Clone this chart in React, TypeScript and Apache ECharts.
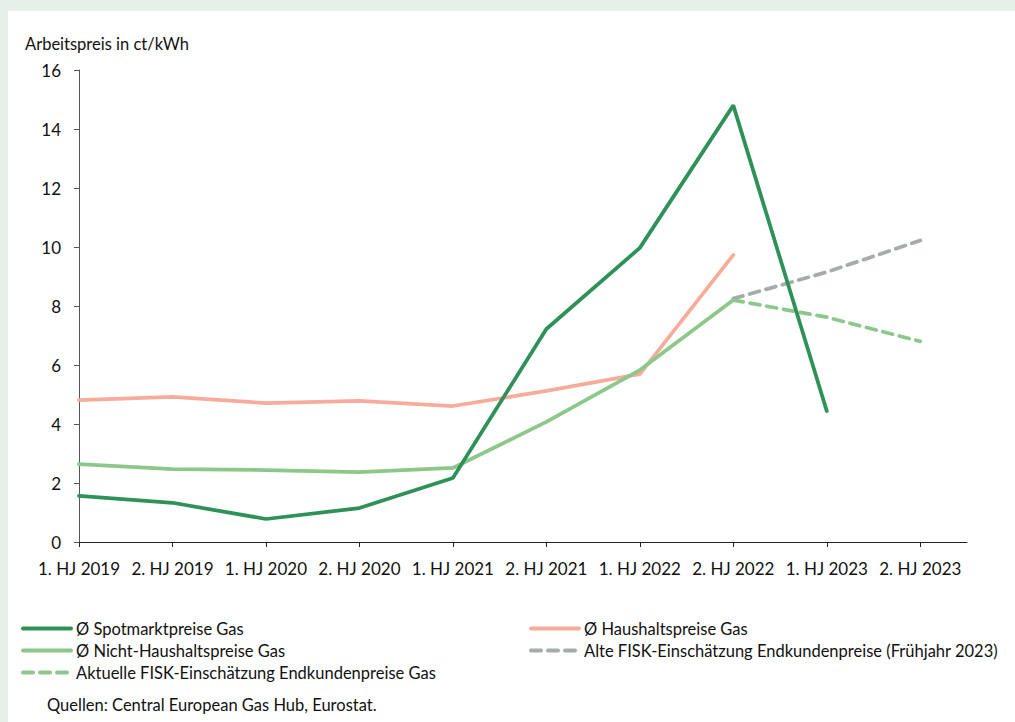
import React, { useEffect, useRef } from "react";
import * as echarts from "echarts";

const categories = [
  "1. HJ 2019", "2. HJ 2019", "1. HJ 2020", "2. HJ 2020", "1. HJ 2021",
  "2. HJ 2021", "1. HJ 2022", "2. HJ 2022", "1. HJ 2023", "2. HJ 2023",
];
const spotmarkt = [1.56, 1.33, 0.78, 1.15, 2.17, 7.22, 9.97, 14.8, 4.44, null];
const haushalt = [4.81, 4.92, 4.71, 4.78, 4.61, 5.12, 5.69, 9.73, null, null];
const nichtHaushalt = [2.64, 2.47, 2.44, 2.37, 2.51, 4.07, 5.83, 8.2, null, null];
const alteFisk = [null, null, null, null, null, null, null, 8.25, 9.15, 10.22];
const aktuelleFisk = [null, null, null, null, null, null, null, 8.2, 7.62, 6.8];

const FONT = "Lato";
const toPairs = (arr: (number | null)[]) =>
  arr.map((v, i) => [i, v]).filter((p) => p[1] !== null);

export default function App() {
  const ref = useRef<HTMLDivElement>(null);
  useEffect(() => {
    if (!ref.current) return;
    const chart = echarts.init(ref.current, undefined, { renderer: "svg" });
    const idx = categories.map((_, i) => i);
    const legendCommon = {
      orient: "vertical",
      top: 604,
      itemWidth: 48,
      itemHeight: 14,
      itemGap: 5,
      itemStyle: { opacity: 0 },
      lineStyle: { width: 4 },
      textStyle: { fontSize: 16.5, color: "#111", fontFamily: FONT },
    };
    chart.setOption({
      animation: false,
      textStyle: { fontFamily: FONT },
      grid: { left: 71, top: 59, right: 48, bottom: 180, containLabel: false },
      xAxis: {
        type: "value",
        min: 0,
        max: 9.5,
        interval: 1,
        splitLine: { show: false },
        axisLine: { show: true, lineStyle: { color: "#222", width: 1 } },
        axisTick: { show: true, length: 5, customValues: idx, lineStyle: { color: "#222" } },
        axisLabel: {
          customValues: idx,
          formatter: (v: number) => categories[Math.round(v)] ?? "",
          color: "#111",
          fontSize: 17,
          fontFamily: FONT,
          margin: 18,
        },
      },
      yAxis: {
        type: "value",
        min: 0,
        max: 16,
        interval: 2,
        splitLine: { show: false },
        axisLine: { show: true, lineStyle: { color: "#555", width: 1 } },
        axisTick: { show: true, length: 5, lineStyle: { color: "#555" } },
        axisLabel: { color: "#111", fontSize: 17, fontFamily: FONT, margin: 18 },
      },
      legend: [
        {
          ...legendCommon,
          left: 8,
          data: ["Ø Spotmarktpreise Gas", "Ø Nicht-Haushaltspreise Gas", "Aktuelle FISK-Einschätzung Endkundenpreise Gas"],
        },
        {
          ...legendCommon,
          left: 516,
          data: ["Ø Haushaltspreise Gas", "Alte FISK-Einschätzung Endkundenpreise (Frühjahr 2023)"],
        },
      ],
      graphic: [
        {
          type: "text",
          left: 17,
          top: 24,
          style: { text: "Arbeitspreis in ct/kWh", fontSize: 16.5, fill: "#111", fontFamily: FONT },
        },
        {
          type: "text",
          left: 39,
          top: 685,
          style: { text: "Quellen: Central European Gas Hub, Eurostat.", fontSize: 16.5, fill: "#111", fontFamily: FONT },
        },
      ],
      series: [
        {
          name: "Ø Haushaltspreise Gas",
          type: "line",
          data: toPairs(haushalt),
          symbol: "none",
          color: "#f7ac9b",
          lineStyle: { width: 3.75, color: "#f7ac9b", cap: "round" },
          z: 2,
        },
        {
          name: "Ø Nicht-Haushaltspreise Gas",
          type: "line",
          data: toPairs(nichtHaushalt),
          symbol: "none",
          color: "#8cc88a",
          lineStyle: { width: 3.75, color: "#8cc88a", cap: "round" },
          z: 3,
        },
        {
          name: "Alte FISK-Einschätzung Endkundenpreise (Frühjahr 2023)",
          type: "line",
          data: toPairs(alteFisk),
          symbol: "none",
          color: "#a6aca9",
          lineStyle: { width: 3.75, color: "#a6aca9", type: [10, 7], cap: "round" },
          z: 3,
        },
        {
          name: "Aktuelle FISK-Einschätzung Endkundenpreise Gas",
          type: "line",
          data: toPairs(aktuelleFisk),
          symbol: "none",
          color: "#8cc88a",
          lineStyle: { width: 3.75, color: "#8cc88a", type: [10, 7], cap: "round" },
          z: 3,
        },
        {
          name: "Ø Spotmarktpreise Gas",
          type: "line",
          data: toPairs(spotmarkt),
          symbol: "none",
          color: "#2e9258",
          lineStyle: { width: 3.75, color: "#2e9258", cap: "round" },
          z: 4,
        },
      ],
    });
    return () => chart.dispose();
  }, []);

  return (
    <div style={{ position: "fixed", left: 0, top: 0, width: 1015, height: 722, background: "#e6efe8" }}>
      <div style={{ position: "absolute", left: 8, top: 11, width: 1007, height: 711, background: "#ffffff" }}>
        <div ref={ref} style={{ width: 1007, height: 711 }} />
      </div>
    </div>
  );
}
